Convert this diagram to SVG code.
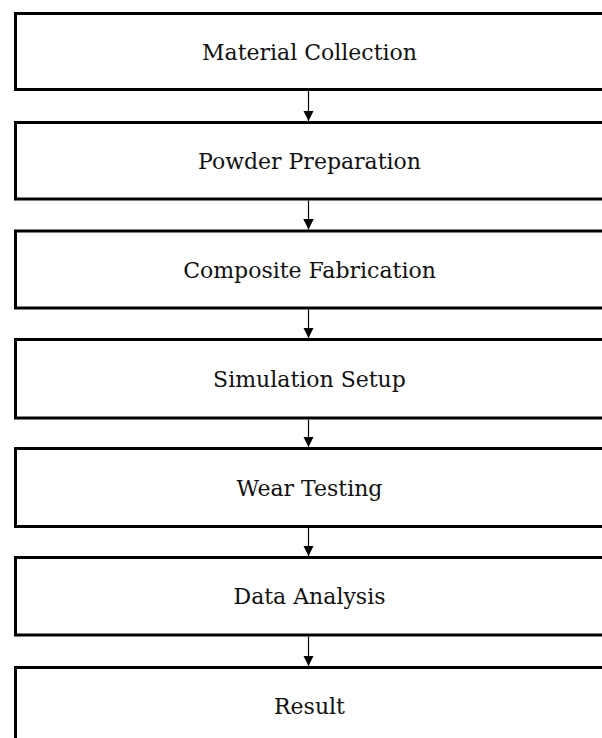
<svg xmlns="http://www.w3.org/2000/svg" width="602" height="738" viewBox="0 0 602 738">
<style>
.box{fill:#fff;stroke:#000;stroke-width:3}
.lbl{font-family:"DejaVu Serif","Liberation Serif",serif;font-size:22px;fill:#111;text-anchor:middle}
.conn{stroke:#000;stroke-width:1.2;fill:none;marker-end:url(#ah)}
</style>
<defs>
<marker id="ah" markerUnits="userSpaceOnUse" viewBox="0 0 10 10" refX="10" refY="5" markerWidth="10.5" markerHeight="10.5" orient="auto">
<path d="M0,0 L10,5 L0,10 Z" fill="#000"/>
</marker>
</defs>
<rect width="602" height="738" fill="#fff"/>
<g id="n1"><rect class="box" x="15.5" y="13.5" width="588" height="76"/><text class="lbl" x="309.5" y="59.5">Material Collection</text></g>
<g id="n2"><rect class="box" x="15.5" y="122.5" width="588" height="76.5"/><text class="lbl" x="309.5" y="168.5">Powder Preparation</text></g>
<g id="n3"><rect class="box" x="15.5" y="231" width="588" height="77"/><text class="lbl" x="309.5" y="277.5">Composite Fabrication</text></g>
<g id="n4"><rect class="box" x="15.5" y="339.5" width="588" height="78.5"/><text class="lbl" x="309.5" y="386.5">Simulation Setup</text></g>
<g id="n5"><rect class="box" x="15.5" y="448.5" width="588" height="78"/><text class="lbl" x="309.5" y="495.5">Wear Testing</text></g>
<g id="n6"><rect class="box" x="15.5" y="557.5" width="588" height="77.5"/><text class="lbl" x="309.5" y="604">Data Analysis</text></g>
<g id="n7"><rect class="box" x="15.5" y="667.5" width="588" height="80"/><text class="lbl" x="309.5" y="713.5">Result</text></g>
<g id="connectors">
<path class="conn" d="M308.5,91 V121"/>
<path class="conn" d="M308.5,200.5 V229.5"/>
<path class="conn" d="M308.5,309.5 V338"/>
<path class="conn" d="M308.5,419.5 V447"/>
<path class="conn" d="M308.5,528 V556"/>
<path class="conn" d="M308.5,636.5 V666"/>
</g>
</svg>
